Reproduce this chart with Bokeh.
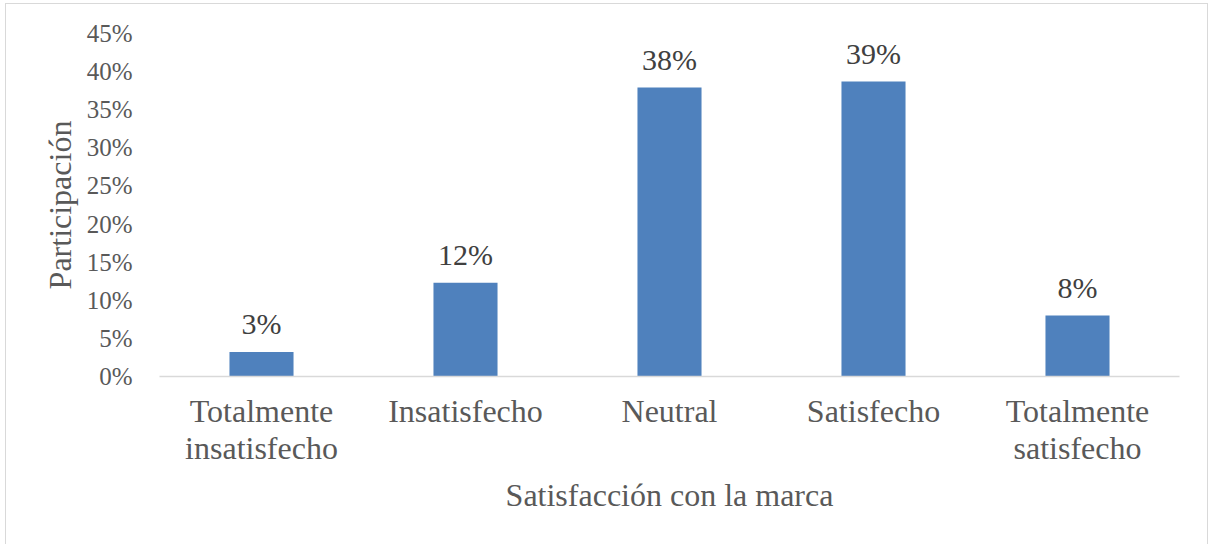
from bokeh.plotting import figure
from bokeh.models import ColumnDataSource, FixedTicker, PrintfTickFormatter, LabelSet
from bokeh.embed import file_html
from bokeh.resources import INLINE

# Survey results: brand satisfaction share (%)
categories = ["Totalmente\ninsatisfecho", "Insatisfecho", "Neutral", "Satisfecho", "Totalmente\nsatisfecho"]
shares = [3.2, 12.3, 37.9, 38.7, 8.0]
y_ticks = [0, 5, 10, 15, 20, 25, 30, 35, 40, 45]

FONT = "Liberation Serif"
BAR = "#4f81bd"

src = ColumnDataSource(dict(
    cat=categories,
    val=shares,
    lab=[f"{round(v)}%" for v in shares],
))

p = figure(
    x_range=categories, y_range=(0, 45),
    width=1203, height=545,
    output_backend="svg", toolbar_location=None,
    min_border_left=153, min_border_right=30,
    min_border_top=29, min_border_bottom=173,
)
p.styles = {"margin-left": "5px", "margin-top": "3px", "border": "1px solid #d9d9d9"}
p.outline_line_color = None
p.xgrid.grid_line_color = None
p.ygrid.grid_line_color = None

p.vbar(x="cat", top="val", width=0.314, source=src, fill_color=BAR, line_color=None)

p.add_layout(LabelSet(
    x="cat", y="val", text="lab", source=src,
    text_align="center", text_baseline="alphabetic", y_offset=18,
    text_font=FONT, text_font_size="30px", text_color="#404040",
))

# y axis
ya = p.yaxis[0]
ya.ticker = FixedTicker(ticks=y_ticks)
ya.formatter = PrintfTickFormatter(format="%d%%")
ya.axis_line_color = None
ya.major_tick_line_color = None
ya.minor_tick_line_color = None
ya.major_tick_out = 0
ya.major_label_standoff = 27
ya.major_label_text_font = FONT
ya.major_label_text_font_size = "25px"
ya.major_label_text_color = "#595959"
ya.axis_label = "Participación"
ya.axis_label_text_font = FONT
ya.axis_label_text_font_size = "32px"
ya.axis_label_text_font_style = "normal"
ya.axis_label_text_color = "#595959"
ya.axis_label_standoff = 6

# x axis
xa = p.xaxis[0]
xa.axis_line_color = "#d9d9d9"
xa.axis_line_width = 1.5
xa.major_tick_line_color = None
xa.minor_tick_line_color = None
xa.major_tick_out = 0
xa.major_label_standoff = 16
xa.major_label_text_font = FONT
xa.major_label_text_font_size = "32px"
xa.major_label_text_color = "#595959"
xa.major_label_text_line_height = 1.05
xa.axis_label = "Satisfacción con la marca"
xa.axis_label_text_font = FONT
xa.axis_label_text_font_size = "32px"
xa.axis_label_text_font_style = "normal"
xa.axis_label_text_color = "#595959"
xa.axis_label_standoff = 8

open("out.html", "w").write(file_html(p, INLINE))
